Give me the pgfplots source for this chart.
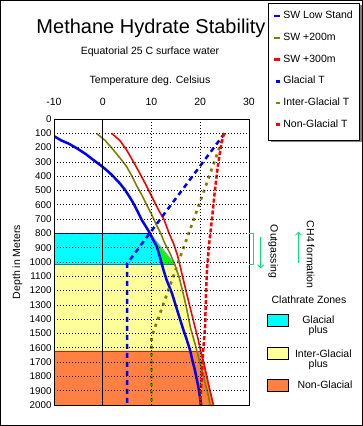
\documentclass[border=0pt]{standalone}
\usepackage{fontspec}
\setmainfont{Liberation Sans}
\usepackage{pgfplots}
\pgfplotsset{compat=1.18}
\usetikzlibrary{arrows.meta}
\definecolor{cyanz}{RGB}{0,255,255}
\definecolor{yelz}{RGB}{255,255,153}
\definecolor{orz}{RGB}{255,128,64}
\definecolor{grz}{RGB}{0,255,0}
\definecolor{olv}{RGB}{128,128,0}
\definecolor{sgreen}{RGB}{0,230,110}
\definecolor{lav}{RGB}{150,150,255}
\definecolor{teal2}{RGB}{0,128,192}
\pgfplotsset{
  lineleg/.style={legend image code/.code={\draw[##1, solid, line width=2.5pt] (0pt,0pt) -- (6pt,0pt);}},
  dotleg/.style={legend image code/.code={\draw[##1, solid, line width=2.5pt] (2.5pt,0pt) -- (6pt,0pt);}},
}
\begin{document}
\begin{tikzpicture}
\useasboundingbox (0pt,0pt) rectangle (363pt,426pt);
\draw[line width=1pt] (0.5pt,0.5pt) rectangle (362.5pt,425.5pt);
\fill[gray] (270.5pt,283.5pt) rectangle (361.5pt,420.5pt);
\draw[fill=white, line width=0.8pt] (268pt,286pt) rectangle (359pt,423pt);
\begin{axis}[
  at={(54pt,21pt)}, anchor=south west,
  width=195pt, height=286pt, scale only axis,
  axis on top,
  xmin=-10, xmax=30, ymin=0, ymax=2000, y dir=reverse,
  xtick={-10,0,10,20,30}, ytick={0,100,...,2000},
  xticklabel pos=upper,
  tick style={draw=none},
  axis line style={line width=0.8pt},
  grid=major,
  major grid style={black, line width=0.7pt, dash pattern=on 0.8pt off 2.2pt},
  extra x ticks={0}, extra x tick labels={},
  extra x tick style={grid=major, major grid style={solid, black, line width=0.8pt}},
  /pgf/number format/assume math mode=true,
  /pgf/number format/1000 sep={},
  xticklabel style={font=\fontsize{10.5}{12}\selectfont, yshift=10pt},
  yticklabel style={font=\fontsize{9.8}{11}\selectfont, xshift=1pt},
  legend style={at={(1.1195,1.3776)}, anchor=north west, draw=none, fill=none,
    inner sep=0pt, row sep=11.7pt, column sep=2.4pt,
    font=\fontsize{10.5}{12}\selectfont,
    nodes={inner sep=0pt, text height=7.5pt, text depth=2.5pt}},
  legend cell align=left,
]
% zone fills
\addplot[forget plot, fill=cyanz, draw=none] coordinates {
 (-10,800) (9.7,800) (10.4,850) (11.1,893) (11.6,950) (12.0,1000) (12.2,1020) (-10,1020) (-10,800)};
\addplot[forget plot, fill=grz, draw=none] coordinates {
 (9.9,810) (14.9,1020) (12.2,1020) (12.0,1000) (11.6,950) (11.1,893) (10.4,850) (9.9,810)};
\addplot[forget plot, lav, line width=0.8pt] coordinates {(10.0,812) (14.9,1020)};
\addplot[forget plot, fill=yelz, draw=none] coordinates {
 (-10,1020) (14.9,1020) (15.7,1110) (16.5,1219) (17.3,1340) (18,1460) (19,1580) (19.3,1625) (-10,1625) (-10,1020)};
\addplot[forget plot, fill=orz, draw=none] coordinates {
 (-10,1625) (20.1,1625) (20.6,1685) (21.6,1840) (22.7,2000) (-10,2000) (-10,1625)};
\addplot[forget plot, blue, line width=0.8pt] coordinates {(-10,800) (9.7,800)};
\addplot[forget plot, teal2, line width=0.8pt] coordinates {(-10,1020) (14.9,1020)};
\addplot[forget plot, red, line width=0.8pt] coordinates {(-10,1625) (20.1,1625)};
% curves
\addplot[blue, line width=2.5pt, lineleg] coordinates {
 (-10,120) (-8.5,150) (-7,172) (-5.3,205) (-3.5,245) (-1.9,287) (0,335) (1.2,370) (2.2,403) (3.5,450)
 (4.6,497) (5.5,545) (6.3,590) (7.2,650) (8,706) (8.9,755) (9.7,800) (10.4,850) (11.1,893) (11.6,950)
 (12.0,1000) (12.5,1060) (13.1,1126) (14.2,1219) (15.3,1340) (16.4,1460) (17.2,1540) (17.9,1615)
 (18.4,1690) (18.9,1755) (19.6,1872) (20.2,2000)};
\addlegendentry{SW Low Stand}
\addplot[olv, line width=1.6pt, lineleg] coordinates {
 (-1.3,100) (0.5,150) (2.2,217) (3.6,275) (4.9,333) (6,400) (7,470) (8,530) (9,600) (10,665) (11,740)
 (11.9,800) (12.6,860) (13.8,940) (14.7,1010) (15.7,1110) (16.5,1219) (17.3,1340) (18,1460) (19,1580)
 (19.9,1700) (20.8,1820) (21.7,1940) (22,2000)};
\addlegendentry{SW +200m}
\addplot[red, line width=1.6pt, lineleg] coordinates {
 (1.8,100) (3.5,150) (4.9,217) (6.3,300) (7.6,380) (9,470) (10.4,566) (11.5,640) (12.6,706) (13.5,790)
 (14.5,869) (15.3,950) (15.9,1033) (16.5,1120) (17.2,1219) (18,1330) (18.9,1452) (19.5,1530) (20.1,1625)
 (20.6,1685) (21.6,1840) (22.7,2000)};
\addlegendentry{SW +300m}
\addplot[blue, line width=2.5pt, dash pattern=on 5pt off 4pt, dotleg] coordinates {
 (25,100) (5,1010) (5,2000)};
\addlegendentry{Glacial T}
\addplot[olv, line width=2.7pt, dash pattern=on 3pt off 4.5pt, dotleg] coordinates {
 (25,100) (10,1525) (10,2000)};
\addlegendentry{Inter-Glacial T}
\addplot[red, line width=2.5pt, dash pattern=on 4pt off 2pt, dotleg] coordinates {
 (24.8,100) (24.2,200) (23.6,330) (23,500) (22.4,700) (21.8,880) (21.4,1050) (21.2,1200) (21,1450)
 (20.6,1620) (20.3,1800) (20,2000)};
\addlegendentry{Non-Glacial T}
\end{axis}
% titles
\node at (151pt,397.5pt) {\fontsize{20}{24}\selectfont Methane Hydrate Stability};
\node at (150pt,374pt) {\fontsize{10.5}{12}\selectfont Equatorial 25 C surface water};
\node at (150pt,345pt) {\fontsize{10.5}{12}\selectfont Temperature deg. Celsius};
\node[rotate=90] at (17.5pt,164pt) {\fontsize{10.5}{12}\selectfont Depth in Meters};
% annotations
\draw[sgreen, line width=0.8pt] (249.3pt,192.7pt) -- (253.3pt,192.7pt) -- (253.3pt,162pt) -- (249.3pt,162pt);
\draw[sgreen, line width=0.8pt, -{Straight Barb[length=3pt,width=6pt]}] (260.7pt,189.3pt) -- (260.7pt,157.7pt);
\draw[sgreen, line width=0.8pt, -{Straight Barb[length=3pt,width=6pt]}] (298.3pt,163pt) -- (298.3pt,194.3pt);
\node[rotate=-90] at (273.3pt,174.5pt) {\fontsize{10.5}{12}\selectfont Outgassing};
\node[rotate=-90] at (310.7pt,171.2pt) {\fontsize{10.5}{12}\selectfont CH4 formation};
% clathrate zones key
\node at (309pt,126.7pt) {\fontsize{10.5}{12}\selectfont Clathrate Zones};
\draw[fill=cyanz, line width=0.8pt] (267.3pt,99.3pt) rectangle (288.3pt,111.7pt);
\draw[fill=yelz, line width=0.8pt] (267.3pt,66.7pt) rectangle (288.3pt,78.7pt);
\draw[fill=orz, line width=0.8pt] (267.3pt,35pt) rectangle (288.3pt,46.7pt);
\node at (318.3pt,106pt) {\fontsize{10.5}{12}\selectfont Glacial};
\node at (318.3pt,95pt) {\fontsize{10.5}{12}\selectfont plus};
\node at (323.3pt,72.7pt) {\fontsize{10.5}{12}\selectfont Inter-Glacial};
\node at (318.3pt,61.7pt) {\fontsize{10.5}{12}\selectfont plus};
\node at (325pt,41pt) {\fontsize{10.5}{12}\selectfont Non-Glacial};
\end{tikzpicture}
\end{document}
